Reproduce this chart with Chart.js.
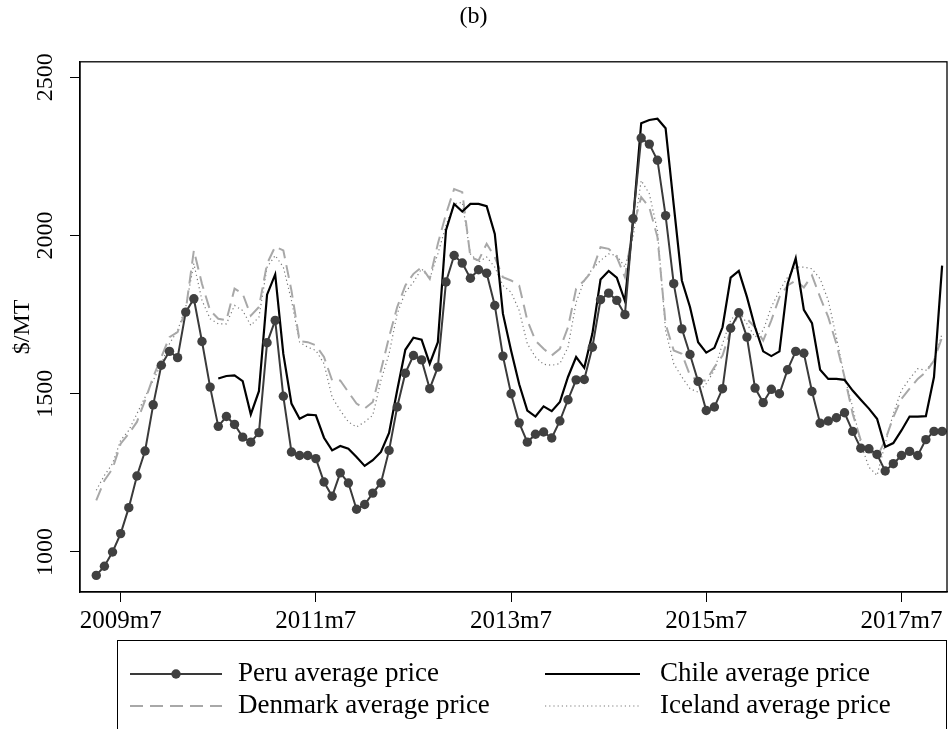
<!DOCTYPE html>
<html>
<head>
<meta charset="utf-8">
<script src="https://cdn.jsdelivr.net/npm/chart.js@4.4.0/dist/chart.umd.min.js"></script>
<style>
  html, body { margin: 0; padding: 0; background: #ffffff; }
  #wrap { width: 952px; height: 729px; }
</style>
</head>
<body>
<div id="wrap"><canvas id="c" width="952" height="729"></canvas></div>
<script>
// ---------- DATA ----------
// Monthly observations, first month 2009m4, last month 2017m12
const firstYear = 2009;
const firstMonth = 4;
const nMonths = 105;

// x-axis tick labels
const tickLabels = ["2009m7", "2011m7", "2013m7", "2015m7", "2017m7"];
// y-axis tick values
const yTickValues = [1000, 1500, 2000, 2500];

// Peru average price ($/MT), 2009m4 .. 2017m12
const peruPrice = [
  926, 955, 1000, 1058, 1140, 1240, 1319, 1465, 1590, 1634,
  1614, 1758, 1800, 1665, 1521, 1397, 1428, 1403, 1363, 1347,
  1377, 1661, 1732, 1492, 1316, 1305, 1305, 1295, 1221, 1176,
  1250, 1218, 1135, 1150, 1186, 1218, 1321, 1458, 1565, 1621,
  1607, 1516, 1584, 1853, 1937, 1913, 1865, 1892, 1881, 1779,
  1619, 1500, 1408, 1347, 1372, 1379, 1360, 1414, 1481, 1544,
  1545, 1647, 1797, 1818, 1795, 1750, 2053, 2308, 2289, 2238,
  2063, 1848, 1705, 1624, 1539, 1447, 1458, 1516, 1707, 1756,
  1679, 1518, 1472, 1514, 1500, 1576, 1634, 1628, 1507, 1407,
  1414, 1424, 1440, 1381, 1328, 1326, 1308, 1256, 1279, 1305,
  1318, 1305, 1355, 1381, 1381
];

// Chile average price ($/MT), starts 2010m7 .. 2017m12
const chileFirst = "2010m7";
const chilePrice = [
  1548, 1556, 1558, 1540, 1435, 1508, 1813, 1877, 1626, 1469,
  1421, 1434, 1432, 1361, 1321, 1335, 1326, 1300, 1272, 1290,
  1316, 1376, 1511, 1639, 1677, 1671, 1595, 1663, 2017, 2100,
  2076, 2100, 2100, 2093, 2005, 1753, 1637, 1530, 1447, 1428,
  1460, 1445, 1474, 1553, 1616, 1582, 1690, 1861, 1888, 1867,
  1793, 2047, 2355, 2365, 2369, 2339, 2097, 1858, 1774, 1663,
  1630, 1645, 1710, 1867, 1888, 1806, 1710, 1634, 1619, 1634,
  1847, 1928, 1765, 1723, 1576, 1547, 1547, 1544, 1510, 1481,
  1453, 1421, 1332, 1344, 1384, 1428, 1428, 1429, 1553, 1905
];

// Denmark average price ($/MT), 2009m4 .. 2017m12
const denmarkPrice = [
  1163, 1226, 1263, 1342, 1374, 1411, 1479, 1553, 1616, 1679,
  1695, 1763, 1953, 1847, 1763, 1737, 1732, 1832, 1816, 1747,
  1774, 1911, 1965, 1953, 1826, 1666, 1663, 1653, 1616, 1542,
  1542, 1505, 1469, 1453, 1474, 1574, 1679, 1774, 1842, 1879,
  1900, 1863, 1974, 2068, 2147, 2137, 1932, 1921, 1974, 1932,
  1868, 1858, 1842, 1732, 1668, 1642, 1621, 1642, 1710, 1832,
  1858, 1889, 1963, 1958, 1932, 1868, 2026, 2121, 2089, 1995,
  1720, 1637, 1626, 1558, 1542, 1542, 1584, 1621, 1700, 1753,
  1737, 1710, 1668, 1732, 1805, 1842, 1858, 1836, 1874, 1805,
  1742, 1658, 1553, 1437, 1353, 1321, 1300, 1353, 1426, 1484,
  1516, 1547, 1568, 1605, 1679
];

// Iceland average price ($/MT), 2009m4 .. 2017m12
const icelandPrice = [
  1195, 1242, 1279, 1353, 1384, 1437, 1489, 1542, 1595, 1658,
  1700, 1774, 1911, 1795, 1737, 1721, 1721, 1779, 1763, 1716,
  1742, 1900, 1937, 1900, 1795, 1663, 1647, 1637, 1595, 1489,
  1447, 1411, 1395, 1411, 1432, 1542, 1626, 1753, 1821, 1853,
  1895, 1863, 1942, 2032, 2100, 2105, 1942, 1916, 1932, 1900,
  1842, 1821, 1763, 1658, 1616, 1593, 1590, 1595, 1647, 1789,
  1858, 1895, 1921, 1942, 1937, 1900, 1995, 2174, 2132, 2016,
  1700, 1595, 1553, 1516, 1505, 1532, 1574, 1658, 1732, 1763,
  1721, 1679, 1700, 1774, 1826, 1868, 1900, 1900, 1895, 1863,
  1795, 1679, 1553, 1458, 1342, 1268, 1242, 1342, 1437, 1511,
  1547, 1579, 1574, 1605, 1690
];

// ---------- BUILD ----------
const monthLabels = [];
for (let i = 0; i < nMonths; i++) {
  const t = (firstMonth - 1) + i;
  monthLabels.push((firstYear + Math.floor(t / 12)) + "m" + ((t % 12) + 1));
}
const tickPositions = tickLabels.map(l => monthLabels.indexOf(l));
const chileOffset = monthLabels.indexOf(chileFirst);

const toPoints = (arr, off) => arr.map((v, i) => ({ x: i + off, y: v }));

const FONT = "'Liberation Serif', 'Times New Roman', serif";

const frameAndLegend = {
  id: 'frameAndLegend',
  afterDraw(chart) {
    const ctx = chart.ctx;
    const a = chart.chartArea;
    ctx.save();
    // full plot frame
    ctx.strokeStyle = '#000';
    ctx.lineWidth = 1.3;
    ctx.strokeRect(a.left, a.top, a.right - a.left, a.bottom - a.top);

    // legend box
    ctx.lineWidth = 1;
    ctx.strokeStyle = '#000';
    ctx.strokeRect(117.5, 640.5, 829, 140);

    const ds = chart.data.datasets;
    const slots = [
      { d: ds[0], x0: 130, x1: 222, tx: 238, y: 674 },
      { d: ds[1], x0: 545, x1: 640, tx: 660, y: 674 },
      { d: ds[2], x0: 130, x1: 222, tx: 238, y: 706 },
      { d: ds[3], x0: 545, x1: 640, tx: 660, y: 706 }
    ];
    slots.forEach(s => {
      ctx.save();
      ctx.strokeStyle = s.d.borderColor;
      ctx.lineWidth = s.d.borderWidth;
      ctx.setLineDash(s.d.borderDash || []);
      ctx.beginPath();
      ctx.moveTo(s.x0, s.y);
      ctx.lineTo(s.x1, s.y);
      ctx.stroke();
      ctx.setLineDash([]);
      if (s.d.pointRadius > 0) {
        ctx.fillStyle = s.d.pointBackgroundColor;
        ctx.beginPath();
        ctx.arc((s.x0 + s.x1) / 2, s.y, s.d.pointRadius, 0, Math.PI * 2);
        ctx.fill();
      }
      ctx.fillStyle = '#000';
      ctx.font = "27px " + FONT;
      ctx.textAlign = 'left';
      ctx.textBaseline = 'middle';
      ctx.fillText(s.d.label, s.tx, s.y);
      ctx.restore();
    });
    ctx.restore();
  }
};

new Chart(document.getElementById('c'), {
  type: 'line',
  data: {
    datasets: [
      {
        label: 'Peru average price',
        data: toPoints(peruPrice, 0),
        borderColor: '#3a3a3a',
        borderWidth: 2,
        pointRadius: 4.7,
        pointBackgroundColor: '#404040',
        pointBorderWidth: 0,
        pointHoverRadius: 4.7,
        tension: 0
      },
      {
        label: 'Chile average price',
        data: toPoints(chilePrice, chileOffset),
        borderColor: '#000000',
        borderWidth: 2.2,
        pointRadius: 0,
        tension: 0
      },
      {
        label: 'Denmark average price',
        data: toPoints(denmarkPrice, 0),
        borderColor: '#a8a8a8',
        borderWidth: 2,
        borderDash: [13, 7],
        pointRadius: 0,
        tension: 0
      },
      {
        label: 'Iceland average price',
        data: toPoints(icelandPrice, 0),
        borderColor: '#7a7a7a',
        borderWidth: 1.2,
        borderDash: [1.2, 3],
        pointRadius: 0,
        tension: 0
      }
    ]
  },
  options: {
    responsive: false,
    devicePixelRatio: 1,
    animation: false,
    events: [],
    layout: { padding: { left: 0, right: 5, top: 0, bottom: 0 } },
    plugins: {
      legend: { display: false },
      tooltip: { enabled: false },
      title: {
        display: true,
        text: '(b)',
        color: '#000',
        font: { family: FONT, size: 24, weight: 'normal' },
        padding: { top: 2, bottom: 31 }
      }
    },
    scales: {
      x: {
        type: 'linear',
        min: -2,
        max: 104.6,
        afterBuildTicks: s => { s.ticks = tickPositions.map(v => ({ value: v })); },
        afterFit: s => { s.height = 137; },
        ticks: {
          autoSkip: false,
          maxRotation: 0,
          minRotation: 0,
          padding: 4,
          color: '#000',
          font: { family: FONT, size: 25 },
          callback: v => tickLabels[tickPositions.indexOf(v)]
        },
        grid: { display: true, drawOnChartArea: false, drawTicks: true, tickLength: 10, color: '#000', lineWidth: 1 },
        border: { display: true, color: '#000', width: 1.3 }
      },
      y: {
        type: 'linear',
        min: 873.5,
        max: 2549,
        afterBuildTicks: s => { s.ticks = yTickValues.map(v => ({ value: v })); },
        afterFit: s => { s.width = 80; },
        ticks: {
          minRotation: 90,
          maxRotation: 90,
          crossAlign: 'center',
          padding: 0,
          color: '#000',
          font: { family: FONT, size: 24 },
          callback: v => String(v)
        },
        grid: { display: true, drawOnChartArea: false, drawTicks: true, tickLength: 10, color: '#000', lineWidth: 1 },
        border: { display: true, color: '#000', width: 1.3 },
        title: {
          display: true,
          text: '$/MT',
          color: '#000',
          font: { family: FONT, size: 24 },
          padding: { top: 8, bottom: 0 }
        }
      }
    }
  },
  plugins: [frameAndLegend]
});
</script>
</body>
</html>
